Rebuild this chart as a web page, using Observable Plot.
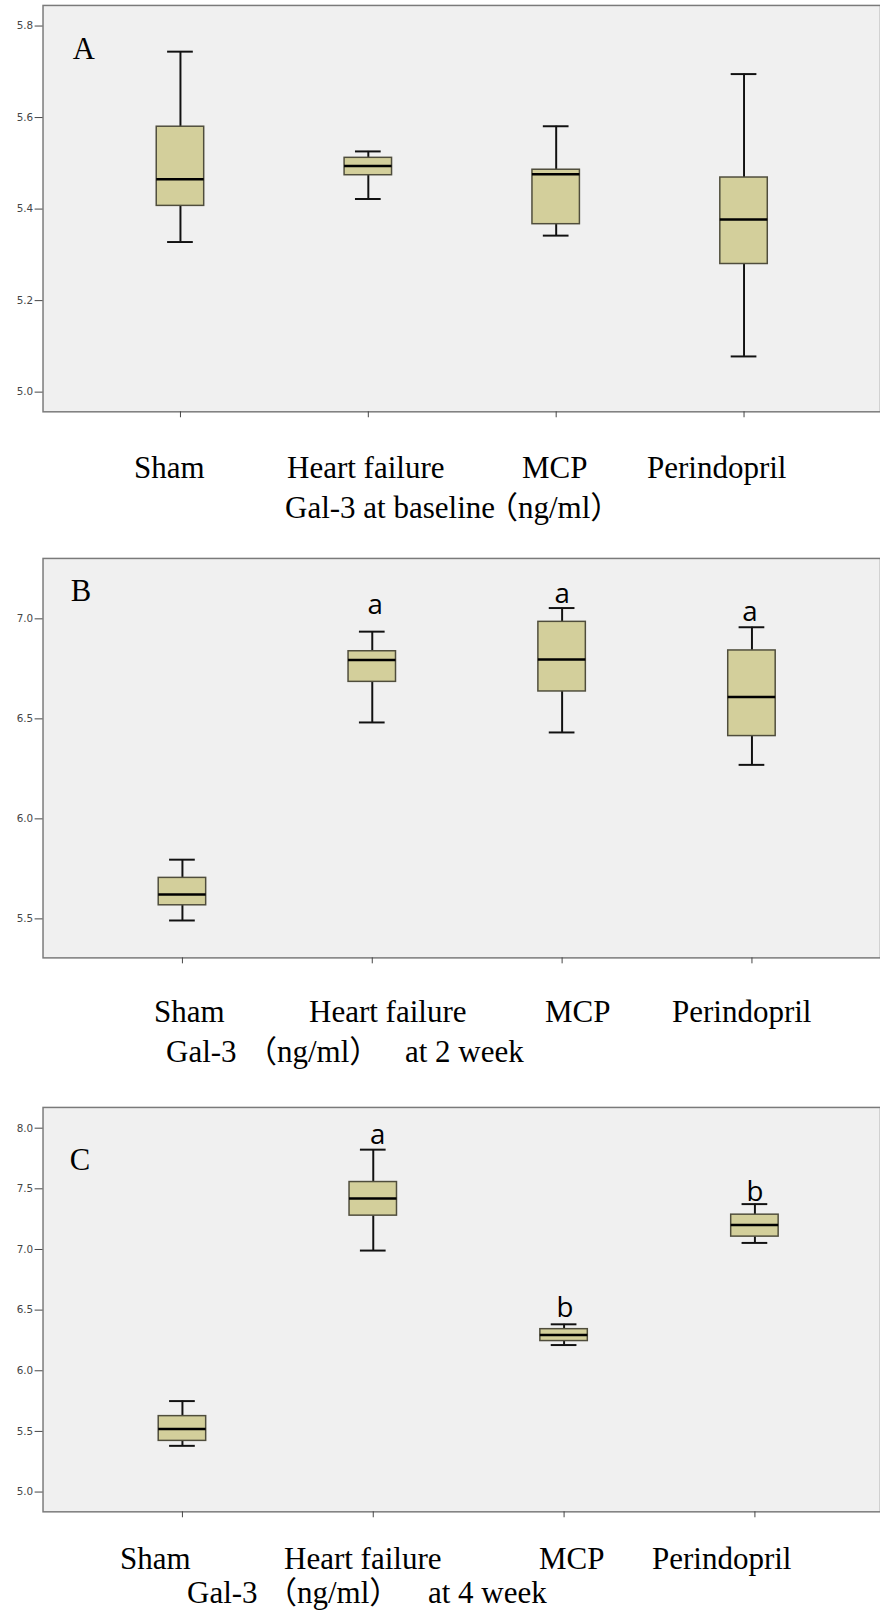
<!DOCTYPE html>
<html><head><meta charset="utf-8">
<script src="https://cdn.jsdelivr.net/npm/d3@7"></script>
<script src="https://cdn.jsdelivr.net/npm/@observablehq/plot@0.6"></script>
<style>
html,body{margin:0;padding:0;background:#fff;}
body{width:880px;height:1613px;overflow:hidden;position:relative;}
.panel{position:absolute;left:0;}
.lbl{position:absolute;font-family:"Liberation Serif","Times New Roman","Noto Sans CJK SC",serif;font-size:31px;line-height:31px;white-space:pre;color:#000;}
</style></head><body>
<script>
// ---- data ----
const groups = ["Sham", "Heart failure", "MCP", "Perindopril"];

const minA = [5.328, 5.422, 5.342, 5.078];
const q1A  = [5.407, 5.474, 5.367, 5.280];
const medA = [5.465, 5.494, 5.476, 5.377];
const q3A  = [5.580, 5.512, 5.486, 5.469];
const maxA = [5.744, 5.526, 5.581, 5.695];
const notesA = ["", "", "", ""];
const yTicksA = [5.0, 5.2, 5.4, 5.6, 5.8];

const minB = [5.492, 6.482, 6.432, 6.270];
const q1B  = [5.568, 6.685, 6.637, 6.414];
const medB = [5.622, 6.794, 6.797, 6.609];
const q3B  = [5.705, 6.838, 6.985, 6.842];
const maxB = [5.796, 6.936, 7.054, 6.958];
const notesB = ["", "a", "a", "a"];
const yTicksB = [5.5, 6.0, 6.5, 7.0];

const minC = [5.381, 6.991, 6.212, 7.054];
const q1C  = [5.422, 7.279, 6.245, 7.106];
const medC = [5.520, 7.421, 6.294, 7.201];
const q3C  = [5.626, 7.556, 6.343, 7.287];
const maxC = [5.750, 7.823, 6.383, 7.374];
const notesC = ["", "a", "b", "b"];
const yTicksC = [5.0, 5.5, 6.0, 6.5, 7.0, 7.5, 8.0];

const letters = ["A", "B", "C"];
const titleA = ["Gal-3 at baseline", "（ng/ml）"];
const titleB = ["Gal-3", "（ng/ml）", "at 2 week"];
const titleC = ["Gal-3", "（ng/ml）", "at 4 week"];

// ---- layout (positions & styles) ----
const panels = [
  {letter: letters[0], min: minA, q1: q1A, med: medA, q3: q3A, max: maxA, notes: notesA, ticks: yTicksA,
   top: 0, height: 425, domain: [4.957, 5.845], centers: [181, 752], letterDx: 30, letterDy: 54,
   noteDy: [0, 0, 0, 0], noteDx: [0, 0, 0, 0],
   catLeft: [134, 287, 522, 647], catBase: 478, title: titleA, titleLeft: [285, 487], titleBase: 518},
  {letter: letters[1], min: minB, q1: q1B, med: medB, q3: q3B, max: maxB, notes: notesB, ticks: yTicksB,
   top: 553, height: 418, domain: [5.305, 7.302], centers: [183, 761], letterDx: 28, letterDy: 43.5,
   noteDy: [0, 18, 5, 6], noteDx: [0, 3, 0, -2],
   catLeft: [154, 309, 545, 672], catBase: 1022, title: titleB, titleLeft: [166, 246, 405], titleBase: 1062},
  {letter: letters[2], min: minC, q1: q1C, med: medC, q3: q3C, max: maxC, notes: notesC, ticks: yTicksC,
   top: 1102, height: 423, domain: [4.837, 8.171], centers: [183, 764], letterDx: 27, letterDy: 63.5,
   noteDy: [0, 5.5, 7.5, 3.5], noteDx: [0, 4.5, 1, 0],
   catLeft: [120, 284, 539, 652], catBase: 1569, title: titleC, titleLeft: [187, 266, 428], titleBase: 1603}
];

const boxWidth = 48, capInset = 11;
const boxFill = "#d3cf9b", boxStroke = "#4f4d3c";

function addLabel(text, left, baseline) {
  const s = document.createElement("div");
  s.className = "lbl";
  s.textContent = text;
  s.style.left = left + "px";
  s.style.top = (baseline - 26) + "px";
  document.body.appendChild(s);
}

for (const p of panels) {
  const rows = groups.map((g, i) => ({g, min: p.min[i], q1: p.q1[i], med: p.med[i], q3: p.q3[i], max: p.max[i], note: p.notes[i], i}));
  const step = (p.centers[1] - p.centers[0]) / (groups.length - 1);
  const pI = 1 - boxWidth / step;
  const noteMarks = rows.filter(r => r.note).map(r =>
    Plot.text([r], {x: "g", y: "max", text: "note", dy: -p.noteDy[r.i], dx: p.noteDx[r.i],
      lineAnchor: "bottom", fontFamily: "Open Sans", fontSize: 28, fill: "#000"}));
  const chart = Plot.plot({
    width: 890, height: p.height,
    marginTop: 5, marginBottom: 9, marginLeft: 43, marginRight: 0,
    style: {background: "transparent", overflow: "visible"},
    x: {type: "band", domain: groups, range: [p.centers[0] - step / 2, p.centers[1] + step / 2],
        paddingInner: pI, paddingOuter: pI / 2, axis: null},
    y: {domain: p.domain, axis: null},
    marks: [
      Plot.frame({fill: "#f0f0f0", stroke: "none"}),
      Plot.ruleX(rows, {x: "g", y1: "q3", y2: "max", stroke: "#111", strokeWidth: 2}),
      Plot.ruleX(rows, {x: "g", y1: "min", y2: "q1", stroke: "#111", strokeWidth: 2}),
      Plot.tickY(rows, {x: "g", y: "max", inset: capInset, stroke: "#111", strokeWidth: 2}),
      Plot.tickY(rows, {x: "g", y: "min", inset: capInset, stroke: "#111", strokeWidth: 2}),
      Plot.barY(rows, {x: "g", y1: "q1", y2: "q3", fill: boxFill, stroke: boxStroke, strokeWidth: 1.5}),
      Plot.tickY(rows, {x: "g", y: "med", stroke: "#000", strokeWidth: 2.5}),
      Plot.frame({stroke: "#7a7a7a", strokeWidth: 1.5}),
      Plot.axisY({ticks: p.ticks, tickFormat: d3.format(".1f"), tickSize: 8, tickPadding: 2,
        fontSize: 10.5, fontFamily: "DejaVu Sans", color: "#444", label: null}),
      Plot.axisX({tickSize: 6, tickFormat: () => "", label: null, color: "#444"}),
      Plot.text([p.letter], {frameAnchor: "top-left", text: d => d, dx: p.letterDx, dy: p.letterDy,
        lineAnchor: "bottom", fontFamily: "Liberation Serif", fontSize: 31, fill: "#000"}),
      ...noteMarks
    ]
  });
  const wrap = document.createElement("div");
  wrap.className = "panel";
  wrap.style.top = p.top + "px";
  wrap.appendChild(chart);
  document.body.appendChild(wrap);

  groups.forEach((g, i) => addLabel(g, p.catLeft[i], p.catBase));
  p.title.forEach((t, i) => addLabel(t, p.titleLeft[i], p.titleBase));
}
</script>
</body></html>
